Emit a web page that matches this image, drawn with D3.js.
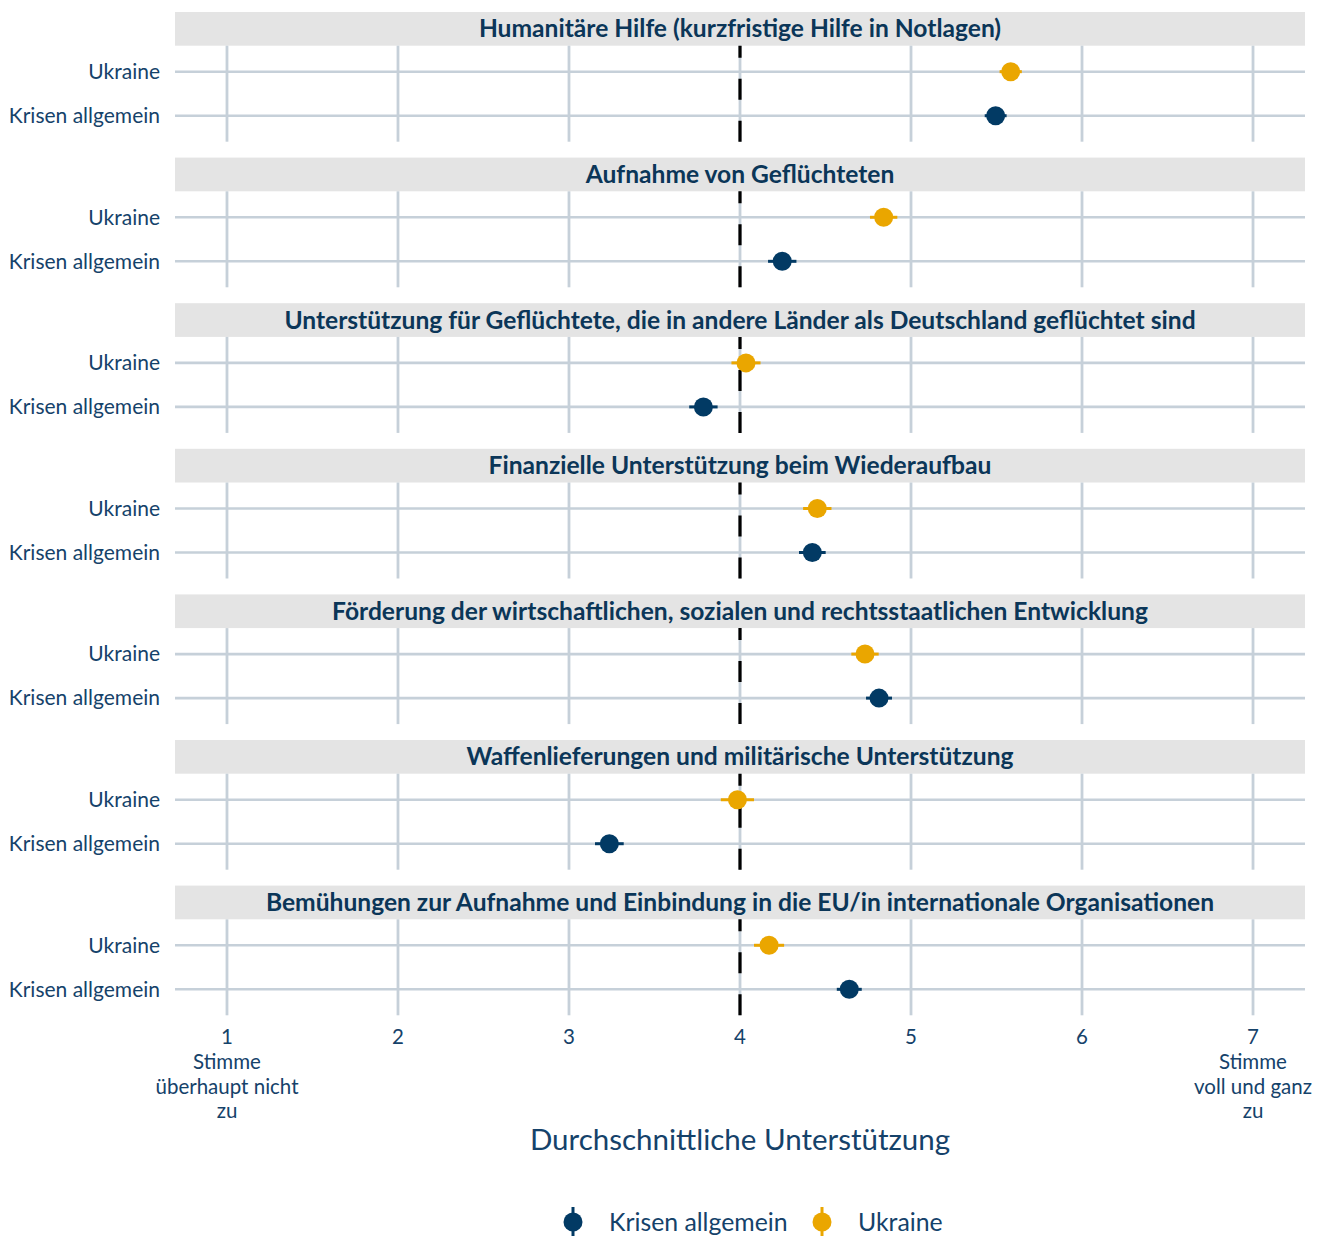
<!DOCTYPE html>
<html><head><meta charset="utf-8">
<script src="https://cdn.jsdelivr.net/npm/d3@7"></script>
<style>body{margin:0;background:#fff;} svg{display:block;}</style>
</head><body>
<svg id="chart" width="1332" height="1236"></svg>
<script>
const panelTitles = [
  "Humanitäre Hilfe (kurzfristige Hilfe in Notlagen)",
  "Aufnahme von Geflüchteten",
  "Unterstützung für Geflüchtete, die in andere Länder als Deutschland geflüchtet sind",
  "Finanzielle Unterstützung beim Wiederaufbau",
  "Förderung der wirtschaftlichen, sozialen und rechtsstaatlichen Entwicklung",
  "Waffenlieferungen und militärische Unterstützung",
  "Bemühungen zur Aufnahme und Einbindung in die EU/in internationale Organisationen"
];
const groups = ["Ukraine", "Krisen allgemein"];
const ukraineMean = [5.583, 4.840, 4.035, 4.452, 4.731, 3.985, 4.170];
const ukraineCI   = [0.065, 0.080, 0.085, 0.083, 0.080, 0.097, 0.088];
const krisenMean  = [5.495, 4.247, 3.786, 4.423, 4.813, 3.236, 4.639];
const krisenCI    = [0.064, 0.083, 0.083, 0.078, 0.076, 0.084, 0.073];
const tickValues = [1, 2, 3, 4, 5, 6, 7];
const tickLabels = [["1","Stimme","überhaupt nicht","zu"],["2"],["3"],["4"],["5"],["6"],["7","Stimme","voll und ganz","zu"]];
const refValue = 4;
const xTitle = "Durchschnittliche Unterstützung";
const legendItems = ["Krisen allgemein", "Ukraine"];

const colors = {"Krisen allgemein": "#023a64", "Ukraine": "#eaa600"};
const textCol = "#15426a";
const stripCol = "#0b3658";
const gridCol = "#c6d0d9";
const font = "Lato, 'Open Sans', sans-serif";

const svg = d3.select("#chart");
const left = 175, right = 1305;
const top0 = 12, period = 145.6, stripH = 33.7, panelH = 96;

const x = d3.scaleLinear().domain([0.696, 7.304]).range([left, right]);
const y = d3.scalePoint().domain(groups).range([0, panelH]).padding(0.59);

const data = panelTitles.map((t, i) => ({
  title: t,
  rows: [
    {group: "Ukraine", mean: ukraineMean[i], ci: ukraineCI[i]},
    {group: "Krisen allgemein", mean: krisenMean[i], ci: krisenCI[i]}
  ]
}));

data.forEach((p, i) => {
  const sTop = top0 + i * period;
  const pTop = sTop + stripH;
  const g = svg.append("g");
  g.append("rect").attr("x", left).attr("y", sTop).attr("width", right - left).attr("height", stripH).attr("fill", "#e4e4e4");
  g.append("text").attr("x", (left + right) / 2).attr("y", sTop + stripH / 2 + 8.5)
    .attr("text-anchor", "middle").attr("font-family", font).attr("font-weight", 700)
    .attr("font-size", 24.6).attr("fill", stripCol).text(p.title);
  const pg = g.append("g").attr("transform", `translate(0,${pTop})`);
  pg.selectAll("line.vg").data(tickValues).join("line")
    .attr("x1", d => x(d)).attr("x2", d => x(d)).attr("y1", 0).attr("y2", panelH)
    .attr("stroke", gridCol).attr("stroke-width", 2.8);
  pg.selectAll("line.hg").data(groups).join("line")
    .attr("x1", left).attr("x2", right).attr("y1", d => y(d)).attr("y2", d => y(d))
    .attr("stroke", gridCol).attr("stroke-width", 2.6);
  pg.selectAll("text.yl").data(groups).join("text")
    .attr("x", 160).attr("y", d => y(d) + 7.3).attr("text-anchor", "end")
    .attr("font-family", font).attr("font-size", 21).attr("fill", textCol).text(d => d);
  pg.append("line").attr("x1", x(refValue)).attr("x2", x(refValue)).attr("y1", panelH).attr("y2", 0)
    .attr("stroke", "#000").attr("stroke-width", 3.2).attr("stroke-dasharray", "21,21");
  pg.selectAll("line.eb").data(p.rows).join("line")
    .attr("x1", d => x(d.mean - d.ci)).attr("x2", d => x(d.mean + d.ci))
    .attr("y1", d => y(d.group)).attr("y2", d => y(d.group))
    .attr("stroke", d => colors[d.group]).attr("stroke-width", 3);
  pg.selectAll("circle.pt").data(p.rows).join("circle")
    .attr("cx", d => x(d.mean)).attr("cy", d => y(d.group)).attr("r", 9.5)
    .attr("fill", d => colors[d.group]);
});

const axisTop = top0 + 6 * period + stripH + panelH;
const xa = svg.append("g");
tickValues.forEach((v, i) => {
  const t = xa.append("text").attr("text-anchor", "middle").attr("font-family", font)
    .attr("font-size", 20.5).attr("fill", textCol);
  tickLabels[i].forEach((line, j) => {
    t.append("tspan").attr("x", x(v)).attr("y", axisTop + 29 + j * 24.6).text(line);
  });
});
svg.append("text").attr("x", (left + right) / 2).attr("y", axisTop + 135)
  .attr("text-anchor", "middle").attr("font-family", font).attr("font-size", 29.5)
  .attr("fill", textCol).text(xTitle);

const legY = 1222;
const legX = [573, 822];
legendItems.forEach((name, i) => {
  const lg = svg.append("g").attr("transform", `translate(${legX[i]},${legY})`);
  lg.append("line").attr("x1", 0).attr("x2", 0).attr("y1", -15).attr("y2", 14)
    .attr("stroke", colors[name]).attr("stroke-width", 3);
  lg.append("circle").attr("r", 9.5).attr("fill", colors[name]);
  lg.append("text").attr("x", 36).attr("y", 8.5).attr("font-family", font).attr("font-size", 24.8)
    .attr("fill", textCol).text(name);
});
</script>
</body></html>
